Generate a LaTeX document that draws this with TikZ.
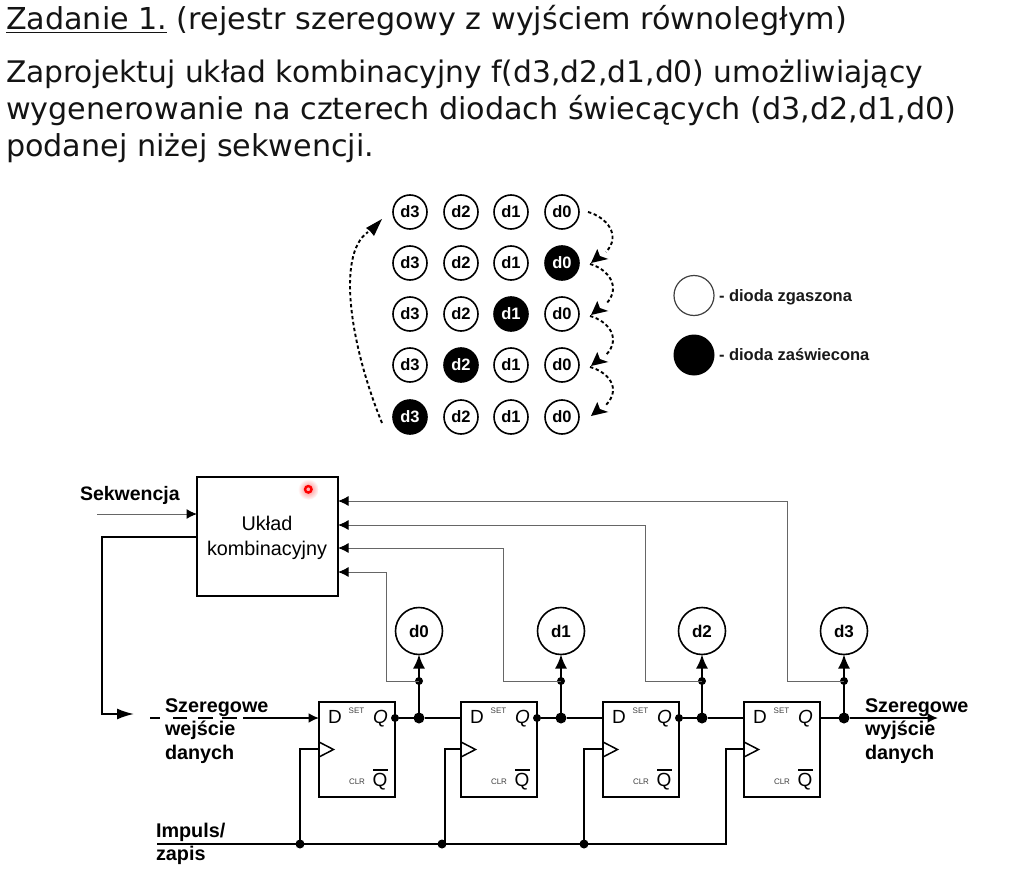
\documentclass[tikz,border=0pt]{standalone}
\usepackage{fontspec}
\setmainfont{DejaVu Sans}
\newfontfamily\arialf{Liberation Sans}
\usetikzlibrary{arrows.meta}
\definecolor{thin}{gray}{0.4}
\tikzset{
  x=1pt,y=-1pt,outer sep=0pt,
  toptext/.style={anchor=base west,inner sep=0pt,font=\fontsize{30.2}{34}\selectfont,text=black!92},
  lab/.style={anchor=base west,inner sep=0pt,font=\arialf\bfseries\fontsize{19.8}{22}\selectfont},
  legendtext/.style={anchor=base west,inner sep=0pt,font=\arialf\bfseries\fontsize{16.5}{18}\selectfont,text=black!90},
  led/.style={circle,draw=black,line width=1.6pt,minimum size=34pt,inner sep=0pt,font=\arialf\bfseries\fontsize{16.5}{17}\selectfont},
  ledon/.style={led,fill=black,text=white},
  bigled/.style={circle,draw=black,line width=1.6pt,minimum size=47pt,inner sep=0pt,font=\arialf\bfseries\fontsize{17}{18}\selectfont},
  ffbox/.style={draw=black,line width=1.6pt,minimum width=76pt,minimum height=95pt,inner sep=0pt,anchor=north west},
  wire/.style={draw=black,line width=1.9pt},
  thinwire/.style={draw=thin,line width=1pt},
  big/.style={-{Latex[length=17pt,width=11pt]}},
  upar/.style={-{Latex[length=14pt,width=12pt]}},
  mid/.style={-{Latex[length=10.5pt,width=10pt,black]}},
  dotted line/.style={line width=1.9pt,dash pattern=on 3.4pt off 2.6pt},
  jbig/.style={circle,fill=black,minimum size=11pt,inner sep=0pt},
  jsmall/.style={circle,fill=black,minimum size=8pt,inner sep=0pt},
  jclk/.style={circle,fill=black,minimum size=9pt,inner sep=0pt},
  pin/.style={inner sep=0pt,font=\arialf\fontsize{19}{20}\selectfont},
  tiny/.style={inner sep=0pt,font=\arialf\fontsize{8}{9}\selectfont,text=black!75},
  blocktext/.style={inner sep=0pt,anchor=base,font=\arialf\fontsize{19.8}{22}\selectfont},
}
\begin{document}
\begin{tikzpicture}
\useasboundingbox (0,0) rectangle (1021,883);
\fill[white] (0,0) rectangle (1021,883);
% header text
\node[toptext] (t1) at (6,30) {\underline{Zadanie 1.} (rejestr szeregowy z wyjściem równoległym)};
\node[toptext,font=\fontsize{29.7}{34}\selectfont] (t2) at (6,83) {Zaprojektuj układ kombinacyjny f(d3,d2,d1,d0) umożliwiający};
\node[toptext] (t3) at (6,120) {wygenerowanie na czterech diodach świecących (d3,d2,d1,d0)};
\node[toptext] (t4) at (6,156) {podanej niżej sekwencji.};
% led matrix
\foreach \r/\y/\on in {0/212/9,1/263/0,2/314/1,3/365/2,4/417/3}{
  \foreach \b/\x in {3/410,2/461,1/511,0/562}{
    \ifnum\b=\on\relax
      \node[ledon] (m\r\b) at (\x,\y) {d\b};
    \else
      \node[led] (m\r\b) at (\x,\y) {d\b};
    \fi
  }
}
% matrix arrows
\coordinate (s0) at (588,212); \coordinate (e0) at (591,263);
\coordinate (s1) at (590,264); \coordinate (e1) at (591,315);
\coordinate (s2) at (590,316); \coordinate (e2) at (591,366);
\coordinate (s3) at (590,367); \coordinate (e3) at (591,416);
\foreach \i in {0,1,2,3}{
  \draw[dotted line] (s\i) .. controls +(18,5) and +(16,-17) .. ([shift={(15,-11)}]e\i);
  \fill (e\i) -- ++(6.3,-14) -- ++(2.6,7) -- ++(8.4,3) -- cycle;
}
\coordinate (ls) at (382,423); \coordinate (le) at (382,219);
\draw[dotted line] (ls) .. controls (352,350) and (335,255) .. (368,232);
\fill (le) -- (366,228) -- (370,231) -- (374,236) -- cycle;
% legend
\node[circle,draw=black!75,line width=1.2pt,minimum size=40pt,inner sep=0pt] (lg1) at (694,295.5) {};
\node[circle,fill=black,minimum size=41pt,inner sep=0pt] (lg2) at (694,355) {};
\node[legendtext] (lt1) at (719,301) {- dioda zgaszona};
\node[legendtext] (lt2) at (719,360) {- dioda zaświecona};
% combinational block
\node[draw=black,line width=1.7pt,minimum width=141pt,minimum height=119pt,inner sep=0pt,anchor=north west] (cb) at (197,477) {};
\node[blocktext] (cbt1) at (267,530) {Układ};
\node[blocktext] (cbt2) at (267,555) {kombinacyjny};
% red lamp
\shade[inner color=red!50,outer color=white] (308.3,489.3) circle (10.5pt);
\node[circle,draw=red,fill=red!30!white,line width=2.4pt,minimum size=6.5pt,inner sep=0pt] (lamp) at (308.3,489.3) {};
% Sekwencja
\node[lab,font=\arialf\bfseries\fontsize{19.5}{22}\selectfont] (sek) at (80,500) {Sekwencja};
\coordinate (sekin) at (97,514);
\draw[thinwire,mid] (sekin) -- (197,514);
% feedback
\coordinate (fb1) at (102,537); \coordinate (fb2) at (102,714); \coordinate (fb3) at (134,714);
\draw[wire,big] (197,537) -- (fb1) -- (fb2) -- (fb3);
% flip-flops
\foreach \n/\x in {1/319,2/461,3/603,4/744}{
  \node[ffbox] (ff\n) at (\x,702) {};
  \draw[line width=1.5pt,fill=white] (\x,742) -- (\x+14.5,749.5) -- (\x,757) -- cycle;
  \node[pin,anchor=base west] (D\n) at (\x+9,723) {D};
  \node[pin,anchor=base east,font=\arialf\itshape\fontsize{19}{20}\selectfont] (Q\n) at (\x+69,723) {Q};
  \node[pin,anchor=base east] (Qb\n) at (\x+68.5,786) {Q};
  \draw[line width=1.3pt] (\x+54,770) -- (\x+69,770);
  \node[tiny,anchor=base] (set\n) at (\x+37.5,713) {SET};
  \node[tiny,anchor=base] (clr\n) at (\x+38,784) {CLR};
}
% data in
\foreach \a/\b in {150/160,173/187,198/213,222/237}{\draw[wire] (\a,718) -- (\b,718);}
\coordinate (din) at (243,718);
\draw[wire,mid] (din) -- (319,718);
% Q to D chain
\node[jbig] (j1) at (419,718) {};
\node[jbig] (j2) at (561,718) {};
\node[jbig] (j3) at (702,718) {};
\node[jbig] (j4) at (844,718) {};
\node[jsmall] (q1) at (395,718) {};
\node[jsmall] (q2) at (537,718) {};
\node[jsmall] (q3) at (679,718) {};
\draw[wire] (q1) -- (j1) -- (461,718);
\draw[wire] (q2) -- (j2) -- (603,718);
\draw[wire] (q3) -- (j3) -- (744,718);
\draw[wire] (820,718) -- (j4);
\coordinate (dout) at (938,718);
\draw[wire,mid] (j4) -- (dout);
% LEDs
\foreach \n/\x/\d in {1/419/0,2/561/1,3/702/2,4/844/3}{
  \node[bigled] (L\n) at (\x,631) {d\d};
  \node[jsmall] (k\n) at (\x,681) {};
  \draw[wire,upar] (j\n) -- (L\n.south);
}
% returns to block
\draw[thinwire,mid] (k1.center) -- (386,681) -- (386,572) -- (338,572);
\draw[thinwire,mid] (k2.center) -- (503,681) -- (503,548) -- (338,548);
\draw[thinwire,mid] (k3.center) -- (645,681) -- (645,525) -- (338,525);
\draw[thinwire,mid] (k4.center) -- (787,681) -- (787,501) -- (338,501);
% clock
\node[jclk] (c1) at (300,844) {};
\node[jclk] (c2) at (442,844) {};
\node[jclk] (c3) at (584,844) {};
\coordinate (clk0) at (157,844);
\draw[wire,line join=miter] (clk0) -- (726,844) -- (726,749) -- (744,749);
\draw[wire] (c1.center) -- (300,749) -- (319,749);
\draw[wire] (445,844) -- (445,749) -- (461,749);
\draw[wire] (c3.center) -- (584,749) -- (603,749);
% labels
\node[lab] (a1) at (165,712) {Szeregowe};
\node[lab] (a2) at (165,735) {wejście};
\node[lab] (a3) at (165,759) {danych};
\node[lab] (b1) at (865,712) {Szeregowe};
\node[lab] (b2) at (865,735) {wyjście};
\node[lab] (b3) at (865,759) {danych};
\node[lab] (c1t) at (156,837) {Impuls/};
\node[lab] (c2t) at (156,860) {zapis};
\end{tikzpicture}
\end{document}
